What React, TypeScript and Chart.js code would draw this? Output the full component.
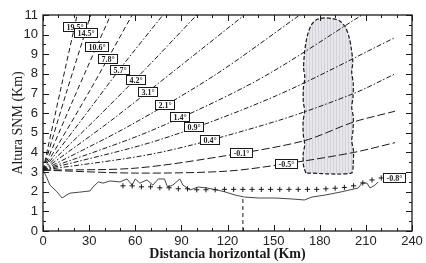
import React, { useEffect, useRef } from 'react';
import { Chart, registerables } from 'chart.js';

Chart.register(...registerables);

// ---------- data (km) ----------
const xTickValues = [0, 30, 60, 90, 120, 150, 180, 210, 240];
const yTickValues = [0, 1, 2, 3, 4, 5, 6, 7, 8, 9, 10, 11];

const beamLabels = ['19.5°', '14.5°', '10.6°', '7.8°', '5.7°', '4.2°', '3.1°', '2.1°', '1.4°', '0.9°', '0.4°', '-0.1°', '-0.5°'];
const beamKm = [
  [0, 12, 22.2],
  [0, 15, 31],
  [0, 20, 44],
  [0, 29, 58],
  [0, 25, 50, 78],
  [0, 33, 66, 100],
  [0, 43, 86, 131],
  [0, 56, 112, 167],
  [0, 70, 140, 207.5],
  [0, 76, 152, 229],
  [0, 76, 152, 202, 229],
  [0, 60, 120, 170, 202, 229],
  [0, 60, 120, 160, 202, 229],
];
const beamHeight = [
  [3.1, 7.4, 11],
  [3.1, 7.0, 11],
  [3.1, 6.75, 11],
  [3.1, 6.95, 11],
  [3.1, 5.65, 8.25, 11],
  [3.1, 5.6, 8.2, 11],
  [3.1, 5.55, 8.2, 11],
  [3.1, 5.35, 7.95, 11],
  [3.1, 5.1, 7.7, 11],
  [3.1, 4.65, 6.9, 9.85],
  [3.1, 4.0, 5.6, 7.0, 8.0],
  [3.1, 3.2, 3.85, 4.6, 5.55, 6.1],
  [3.1, 2.95, 3.05, 3.45, 4.0, 4.5],
];
const labelKm = [20.5, 27.5, 35, 42, 50, 60, 68, 79, 89, 98, 108, 129, 158];

const crossLabel = '-0.8°';
const crossLabelKm = 228;
const crossKm = [52, 58, 64, 70, 76, 82, 88, 94, 100, 106, 112, 118, 124, 130, 136, 142, 148, 154, 160, 166, 172, 178, 184, 190, 196, 202, 208, 214, 220];
const crossHeight = [2.3, 2.3, 2.25, 2.25, 2.2, 2.2, 2.15, 2.15, 2.1, 2.1, 2.1, 2.12, 2.12, 2.12, 2.12, 2.12, 2.12, 2.12, 2.12, 2.12, 2.12, 2.12, 2.15, 2.18, 2.22, 2.3, 2.45, 2.6, 2.7];

const terrainKm = [0, 2, 4.5, 9, 12.4, 14.3, 17.6, 24, 30.6, 32.5, 36, 39, 43.6, 50, 54.6, 58, 60, 63, 67.6, 71.5, 75, 79, 81, 84.5, 89, 91, 95.6, 101, 106.7, 113, 118, 125, 131, 140, 151, 162, 170, 175, 183.4, 194.5, 205, 207.5, 210.7, 212.7, 216, 218];
const terrainHeight = [3.1, 2.8, 2.34, 2.0, 1.68, 1.78, 1.93, 1.98, 2.04, 2.24, 2.5, 2.44, 2.55, 2.5, 2.65, 2.34, 2.65, 2.44, 2.6, 2.34, 2.65, 2.65, 2.24, 2.34, 2.65, 2.34, 2.09, 2.24, 2.19, 2.09, 2.0, 1.83, 1.73, 1.68, 1.68, 1.63, 1.58, 1.73, 1.83, 2.0, 2.19, 2.44, 2.44, 2.19, 2.34, 2.5];

const cutKm = [130, 130];
const cutHeight = [0, 1.72];

const cloudKm = [171, 169.5, 169.2, 170.2, 169.3, 169.2, 170.2, 169.3, 169.4, 170.3, 169.5, 170, 171, 172.5, 175, 178.5, 183, 188, 193, 196.5, 199, 200.5, 201.5, 200.8, 201.8, 201.6, 200.8, 201.8, 201.6, 200.8, 201.9, 201.7, 200.5, 171];
const cloudHeight = [2.95, 3.3, 3.9, 4.4, 4.9, 5.6, 6.1, 6.6, 7.3, 7.8, 8.3, 9.0, 9.6, 10.1, 10.55, 10.78, 10.85, 10.82, 10.7, 10.4, 9.9, 9.3, 8.6, 8.1, 7.5, 6.8, 6.3, 5.8, 5.1, 4.6, 4.1, 3.4, 2.95, 2.95];

const xMinorStep = 10;
const yMinorStep = 0.5;

// ---------- helpers ----------
const pts = (xs: number[], ys: number[]) => xs.map((x, i) => ({ x, y: ys[i] }));

function interp(xs: number[], ys: number[], x: number) {
  if (x <= xs[0]) return ys[0];
  for (let i = 1; i < xs.length; i++) {
    if (x <= xs[i]) {
      const t = (x - xs[i - 1]) / (xs[i] - xs[i - 1]);
      return ys[i - 1] + t * (ys[i] - ys[i - 1]);
    }
  }
  return ys[ys.length - 1];
}

const INK = '#1a1a1a';

const framePlugin = {
  id: 'frameTicks',
  afterDraw(chart: any) {
    const { ctx, chartArea: a, scales } = chart;
    const xs = scales.x;
    const ys = scales.y;
    ctx.save();
    ctx.strokeStyle = INK;
    ctx.lineWidth = 1.3;
    ctx.strokeRect(a.left, a.top, a.right - a.left, a.bottom - a.top);
    ctx.lineWidth = 1;
    ctx.beginPath();
    for (let v = xs.min; v <= xs.max + 1e-6; v += xMinorStep) {
      const px = Math.round(xs.getPixelForValue(v)) + 0.5;
      const len = xTickValues.includes(v) ? 6 : 3;
      ctx.moveTo(px, a.bottom);
      ctx.lineTo(px, a.bottom - len);
      ctx.moveTo(px, a.top);
      ctx.lineTo(px, a.top + len);
    }
    for (let v = ys.min; v <= ys.max + 1e-6; v += yMinorStep) {
      const py = Math.round(ys.getPixelForValue(v)) + 0.5;
      const len = yTickValues.includes(v) ? 6 : 3;
      ctx.moveTo(a.left, py);
      ctx.lineTo(a.left + len, py);
      ctx.moveTo(a.right, py);
      ctx.lineTo(a.right - len, py);
    }
    ctx.stroke();
    ctx.restore();
  },
};

function drawBox(ctx: CanvasRenderingContext2D, text: string, px: number, py: number) {
  const w = Math.round(ctx.measureText(text).width + 6);
  const h = 9;
  const l = Math.round(px - w / 2) + 0.5;
  const t = Math.round(py - h / 2) + 0.5;
  ctx.fillStyle = '#fff';
  ctx.fillRect(l, t, w, h);
  ctx.strokeStyle = INK;
  ctx.lineWidth = 1;
  ctx.strokeRect(l, t, w, h);
  ctx.fillStyle = INK;
  ctx.fillText(text, l + w / 2, t + h / 2 + 0.5);
}

const labelPlugin = {
  id: 'beamLabels',
  afterDatasetsDraw(chart: any) {
    const { ctx, scales } = chart;
    const xs = scales.x;
    const ys = scales.y;
    ctx.save();
    ctx.font = 'bold 8px "Liberation Serif"';
    ctx.textAlign = 'center';
    ctx.textBaseline = 'middle';
    beamLabels.forEach((text, i) => {
      const y = interp(beamKm[i], beamHeight[i], labelKm[i]);
      drawBox(ctx, text, xs.getPixelForValue(labelKm[i]), ys.getPixelForValue(y));
    });
    const cy = interp(crossKm, crossHeight, crossLabelKm);
    drawBox(ctx, crossLabel, xs.getPixelForValue(crossLabelKm), ys.getPixelForValue(cy));
    ctx.restore();
  },
};

export default function App() {
  const ref = useRef<HTMLCanvasElement>(null);

  useEffect(() => {
    const canvas = ref.current;
    if (!canvas) return;
    const ctx = canvas.getContext('2d');
    if (!ctx) return;

    const pc = document.createElement('canvas');
    pc.width = 3;
    pc.height = 3;
    const g = pc.getContext('2d')!;
    g.fillStyle = '#e7e7eb';
    g.fillRect(0, 0, 3, 3);
    g.fillStyle = '#d3d3d9';
    g.fillRect(0, 0, 1, 3);
    const pattern = ctx.createPattern(pc, 'repeat');

    const beamDash = (i: number) => (i < 4 ? [5, 3] : i < 11 ? [5, 2, 1.5, 2] : [8, 3]);

    const datasets: any[] = [
      {
        label: 'cloud',
        data: pts(cloudKm, cloudHeight),
        showLine: true,
        fill: 'shape',
        backgroundColor: pattern,
        borderColor: INK,
        borderWidth: 1.2,
        borderDash: [4, 2],
        pointRadius: 0,
        tension: 0.3,
        order: 10,
      },
      ...beamLabels.map((lab, i) => ({
        label: lab,
        data: pts(beamKm[i], beamHeight[i]),
        showLine: true,
        borderColor: INK,
        borderWidth: 1,
        borderDash: beamDash(i),
        pointRadius: 0,
        tension: 0.3,
        order: 5,
      })),
      {
        label: 'terrain',
        data: pts(terrainKm, terrainHeight),
        showLine: true,
        borderColor: '#333',
        borderWidth: 0.9,
        pointRadius: 0,
        order: 4,
      },
      {
        label: 'cut',
        data: pts(cutKm, cutHeight),
        showLine: true,
        borderColor: INK,
        borderWidth: 1,
        borderDash: [4, 3],
        pointRadius: 0,
        order: 4,
      },
      {
        label: crossLabel,
        data: pts(crossKm, crossHeight),
        showLine: false,
        pointStyle: 'cross',
        pointRadius: 2.6,
        borderColor: INK,
        pointBorderWidth: 1,
        order: 3,
      },
    ];

    const chart = new Chart(ctx, {
      type: 'scatter',
      data: { datasets },
      options: {
        animation: false,
        responsive: false,
        maintainAspectRatio: false,
        layout: { padding: { left: 0, right: 14, top: 15, bottom: 0 } },
        plugins: { legend: { display: false }, tooltip: { enabled: false } },
        scales: {
          x: {
            type: 'linear',
            min: 0,
            max: 240,
            afterFit: (s: any) => { s.height = 32; },
            afterBuildTicks: (s: any) => { s.ticks = xTickValues.map((value) => ({ value })); },
            grid: { display: false, drawTicks: false },
            border: { display: false },
            ticks: {
              autoSkip: false,
              maxRotation: 0,
              padding: 3,
              color: '#222',
              font: { family: 'Liberation Sans', size: 13 },
            },
            title: {
              display: true,
              text: 'Distancia horizontal (Km)',
              color: INK,
              font: { family: 'Liberation Serif', size: 14, weight: 'bold' },
              padding: { top: 0, bottom: 0 },
            },
          },
          y: {
            type: 'linear',
            min: 0,
            max: 11,
            afterFit: (s: any) => { s.width = 43; },
            afterBuildTicks: (s: any) => { s.ticks = yTickValues.map((value) => ({ value })); },
            grid: { display: false, drawTicks: false },
            border: { display: false },
            ticks: {
              autoSkip: false,
              padding: 5,
              color: '#222',
              font: { family: 'Liberation Sans', size: 13 },
            },
            title: {
              display: true,
              text: 'Altura SNM (Km)',
              color: INK,
              font: { family: 'Liberation Serif', size: 14 },
              padding: { top: 10, bottom: 0 },
            },
          },
        },
      },
      plugins: [labelPlugin, framePlugin],
    });

    return () => chart.destroy();
  }, []);

  return (
    <div style={{ position: 'fixed', left: 0, top: 0, width: 426, height: 263, background: '#fff' }}>
      <canvas ref={ref} width={426} height={263} style={{ display: 'block', width: 426, height: 263 }} />
    </div>
  );
}
